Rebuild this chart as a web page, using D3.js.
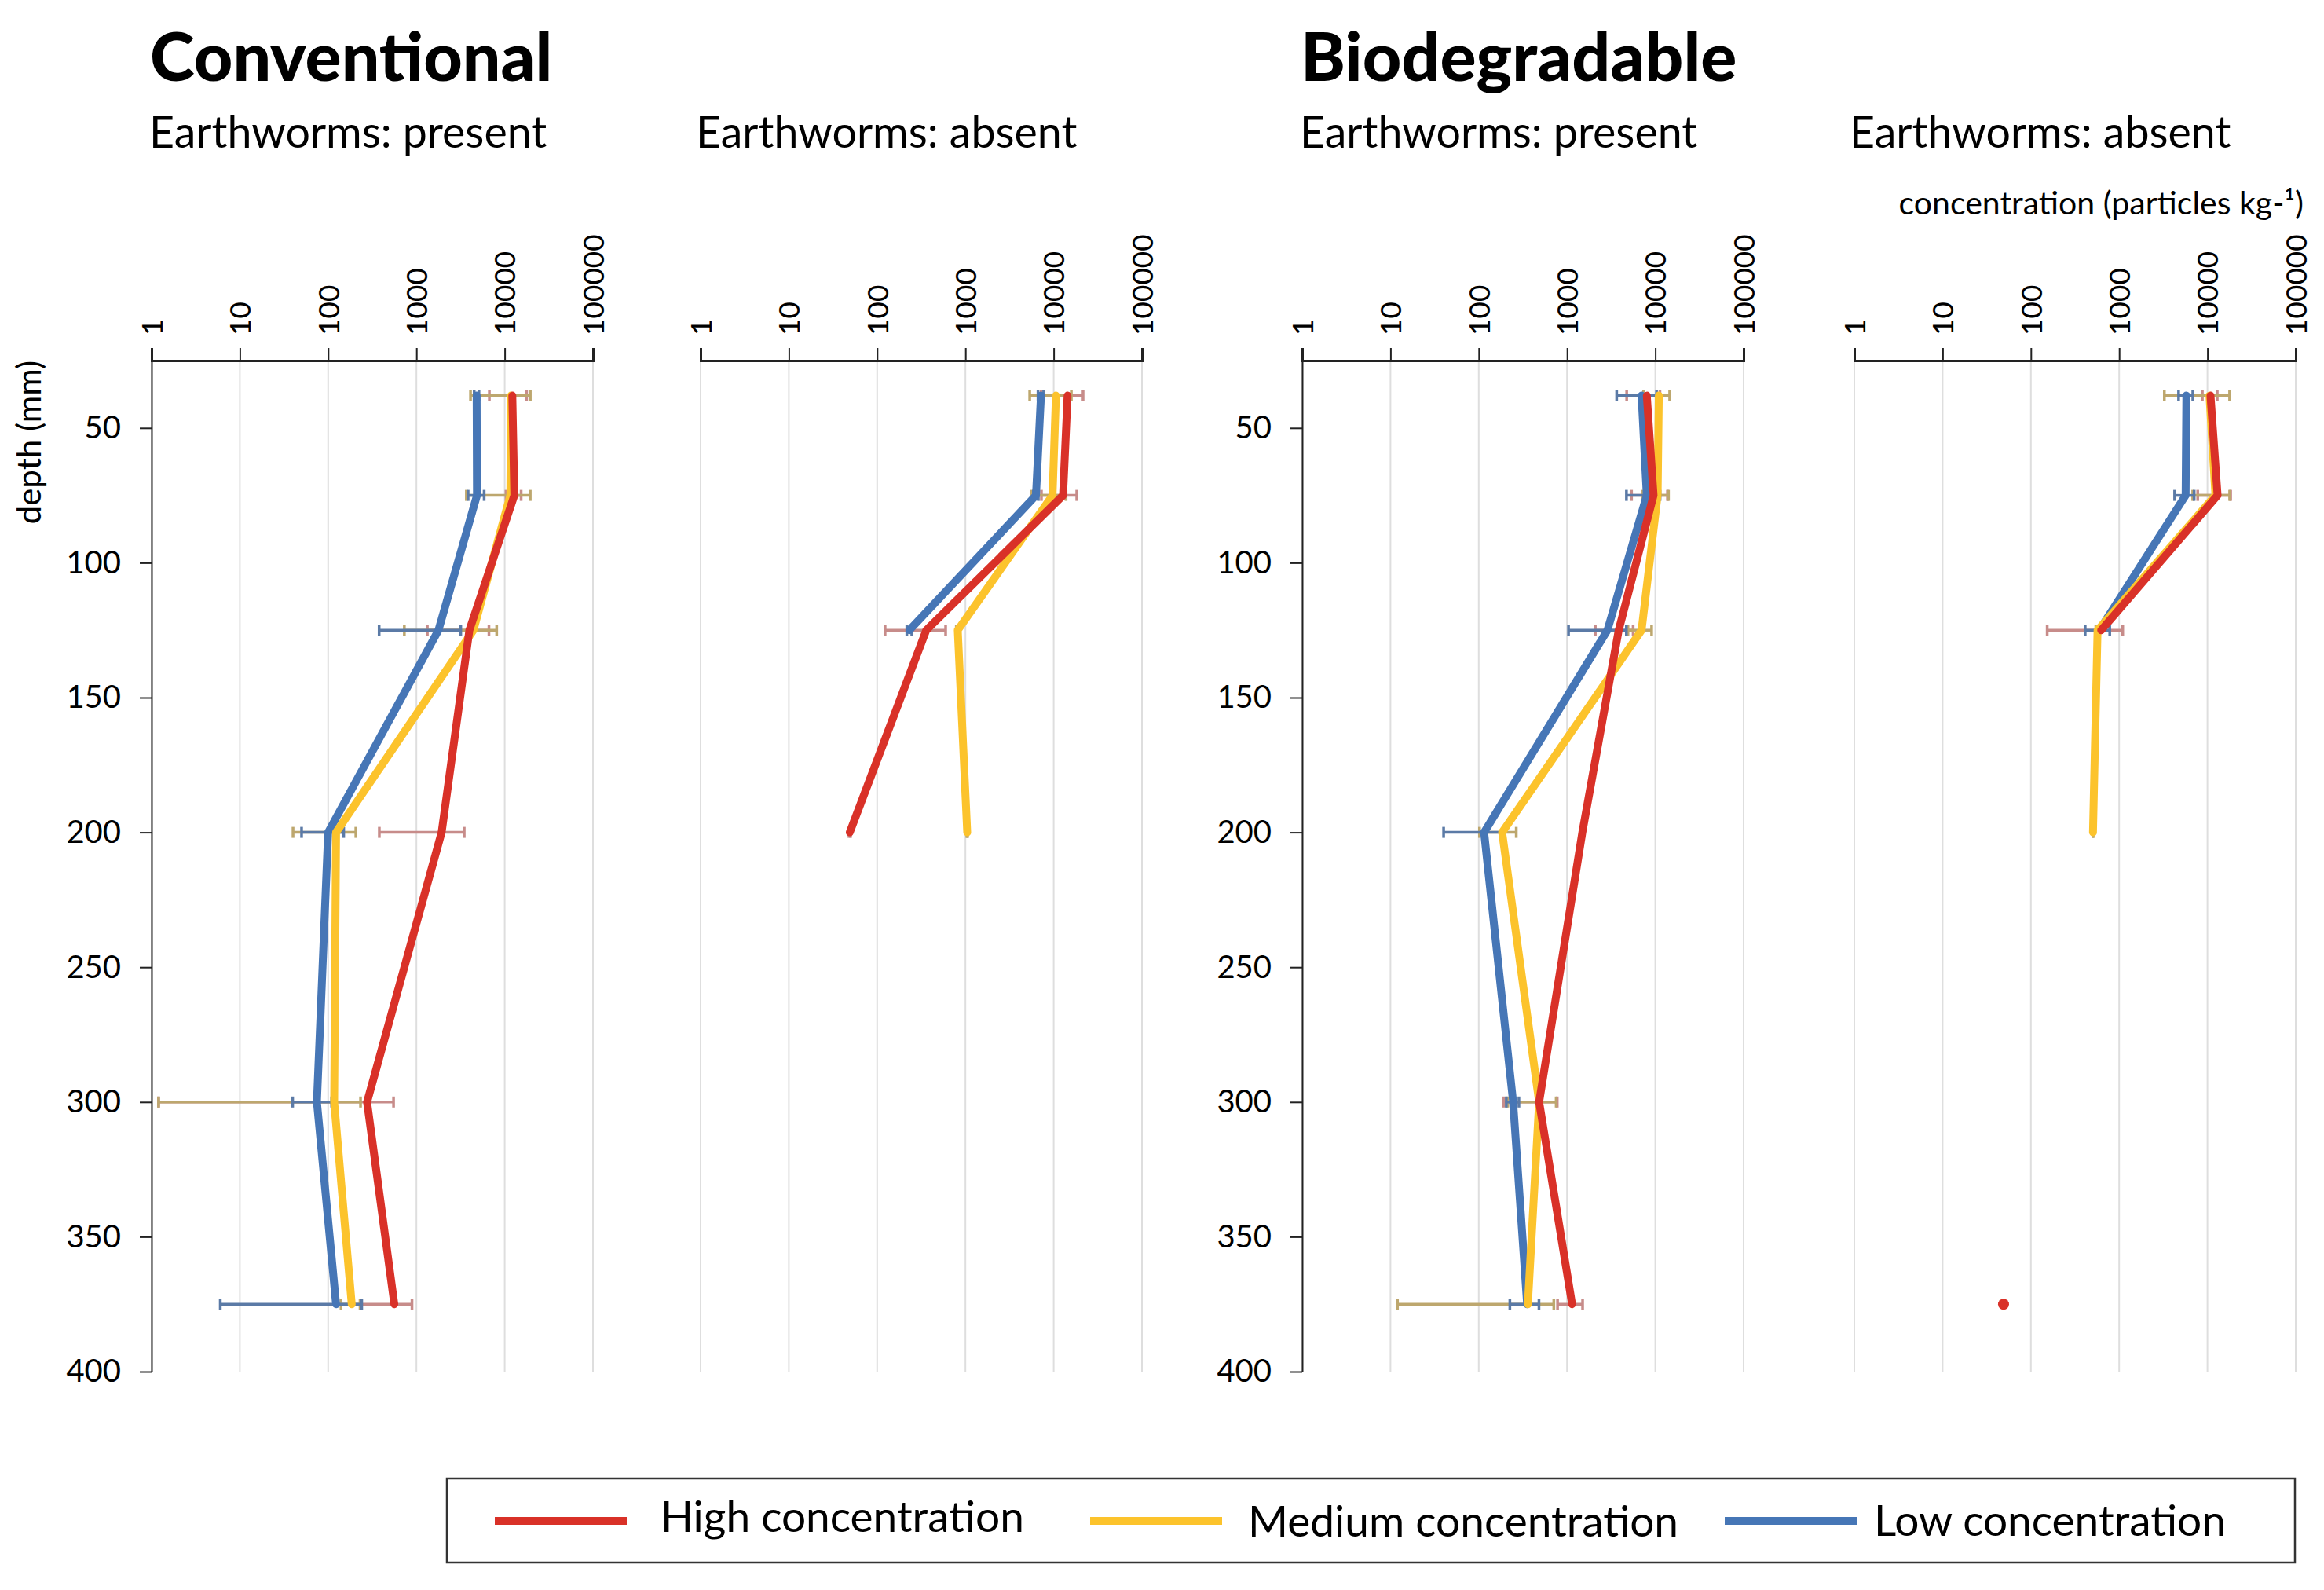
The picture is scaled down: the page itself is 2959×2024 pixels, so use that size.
<!DOCTYPE html>
<html>
<head>
<meta charset="utf-8">
<script src="https://cdn.jsdelivr.net/npm/d3@7"></script>
<style>
  body { margin: 0; background: #fff; }
  svg { display: block; font-family: Lato, "Open Sans", sans-serif; }
</style>
</head>
<body>
<svg id="chart" width="2959" height="2024"></svg>
<script>
// sampled layer depths (mm) and axis ticks
var depths = [38, 75, 125, 200, 300, 375];
var xTicks = [1, 10, 100, 1000, 10000, 100000];
var yTicks = [50, 100, 150, 200, 250, 300, 350, 400];
var seriesNames = ["High concentration", "Medium concentration", "Low concentration"];
var groupTitles = ["Conventional", "Biodegradable"];
var panelTitles = ["Earthworms: present", "Earthworms: absent", "Earthworms: present", "Earthworms: absent"];

// Conventional, earthworms present (particles kg-1, mean and error)
var convPresentHigh = [12200, 12850, 3980, 1930, 276, 562];
var convPresentHighErr = [5500, 2500, 2650, 1550, 274.8, 329];
var convPresentMedium = [11800, 11580, 4420, 123, 117, 185];
var convPresentMediumErr = [7700, 7900, 3690, 83, 115.8, 45];
var convPresentLow = [4810, 4850, 1778, 100, 74.6, 123];
var convPresentLowErr = [300, 1000, 1400, 50, 35, 117];

// Conventional, earthworms absent
var convAbsentHigh = [14360, 12760, 360, 49, null, null];
var convAbsentHighErr = [7150, 5500, 237, 1, null, null];
var convAbsentMedium = [10600, 9700, 819, 1048, null, null];
var convAbsentMediumErr = [5250, 4100, 30, 10, null, null];
var convAbsentLow = [7170, 6300, 232, null, null, null];
var convAbsentLowErr = [530, 400, 15, null, null, null];

// Biodegradable, earthworms present
var bioPresentHigh = [8010, 9560, 3850, 1490, 483, 1141];
var bioPresentHighErr = [3270, 4180, 1760, 60, 291, 360];
var bioPresentMedium = [10960, 10620, 6990, 184, 483, 360];
var bioPresentMediumErr = [3590, 3480, 2090, 82, 270, 348];
var bioPresentLow = [6990, 8010, 2870, 115, 245, 353];
var bioPresentLowErr = [3340, 3300, 1830, 75, 40, 128];

// Biodegradable, earthworms absent
var bioAbsentHigh = [10830, 13030, 625, null, null, 49];
var bioAbsentHighErr = [2080, 5270, 472, null, null, null];
var bioAbsentMedium = [10540, 12330, 569, 505, null, null];
var bioAbsentMediumErr = [7290, 5520, 25, 1, null, null];
var bioAbsentLow = [5770, 5660, 597, null, null, null];
var bioAbsentLowErr = [1060, 1410, 185, null, null, null];

var lineColors = ["#d93128", "#fcc32c", "#4676b6"];
var errColors = ["#c78c8a", "#bda76e", "#5b7aa6"];

var panels = [
  {left: 193, yAxis: true, values: [convPresentHigh, convPresentMedium, convPresentLow],
   errors: [convPresentHighErr, convPresentMediumErr, convPresentLowErr]},
  {left: 892, yAxis: false, values: [convAbsentHigh, convAbsentMedium, convAbsentLow],
   errors: [convAbsentHighErr, convAbsentMediumErr, convAbsentLowErr]},
  {left: 1658, yAxis: true, values: [bioPresentHigh, bioPresentMedium, bioPresentLow],
   errors: [bioPresentHighErr, bioPresentMediumErr, bioPresentLowErr]},
  {left: 2361, yAxis: false, values: [bioAbsentHigh, bioAbsentMedium, bioAbsentLow],
   errors: [bioAbsentHighErr, bioAbsentMediumErr, bioAbsentLowErr]}
];

var panelWidth = 562;
var plotTop = 459, plotBottom = 1746;

var svg = d3.select("#chart");

var y = d3.scaleLinear().domain([25, 400]).range([plotTop, plotBottom]);

// titles
svg.selectAll(".group-title")
  .data(groupTitles)
  .enter().append("text")
    .attr("class", "group-title")
    .attr("x", function(d, i) { return panels[i * 2].left - 2; })
    .attr("y", 103)
    .attr("font-size", 86)
    .attr("font-weight", 900)
    .text(function(d) { return d; });

svg.selectAll(".panel-title")
  .data(panelTitles)
  .enter().append("text")
    .attr("class", "panel-title")
    .attr("x", function(d, i) { return panels[i].left - (i % 2 ? 6 : 3); })
    .attr("y", 188)
    .attr("font-size", 55.5)
    .text(function(d) { return d; });

svg.append("text")
    .attr("x", 2933)
    .attr("y", 273)
    .attr("text-anchor", "end")
    .attr("font-size", 41)
    .text("concentration (particles kg-\u00b9)");

svg.append("text")
    .attr("transform", "translate(37,563) rotate(-90)")
    .attr("text-anchor", "middle")
    .attr("dy", "0.35em")
    .attr("font-size", 42)
    .text("depth (mm)");

panels.forEach(function(p) {
  var x = d3.scaleLog().domain([1, 100000]).range([p.left, p.left + panelWidth]);
  var g = svg.append("g");

  // vertical gridlines
  g.selectAll(".grid")
    .data(xTicks)
    .enter().append("line")
      .attr("x1", x).attr("x2", x)
      .attr("y1", plotTop).attr("y2", plotBottom)
      .attr("stroke", "#dedede")
      .attr("stroke-width", 2);

  // top axis with rotated labels
  var xAxis = g.append("g")
      .attr("transform", "translate(0," + plotTop + ")")
      .call(d3.axisTop(x).tickValues(xTicks).tickSize(16).tickFormat(d3.format("d")));
  xAxis.attr("font-family", null).attr("font-size", 37);
  xAxis.select(".domain").attr("stroke", "#222").attr("stroke-width", 3);
  xAxis.selectAll(".tick line").attr("stroke", "#222").attr("stroke-width", 2);
  xAxis.selectAll(".tick text")
      .attr("transform", "rotate(-90)")
      .attr("x", 32)
      .attr("y", 0)
      .attr("dy", "0.36em")
      .attr("fill", "#000")
      .style("text-anchor", "start");

  if (p.yAxis) {
    var yAxis = g.append("g")
        .attr("transform", "translate(" + p.left + ",0)")
        .call(d3.axisLeft(y).tickValues(yTicks).tickSize(15).tickSizeOuter(0).tickPadding(24));
    yAxis.attr("font-family", null).attr("font-size", 40);
    yAxis.select(".domain").attr("stroke", "#222").attr("stroke-width", 2);
    yAxis.selectAll(".tick line").attr("stroke", "#222").attr("stroke-width", 2);
    yAxis.selectAll(".tick text").attr("fill", "#000");
  }

  // error bars under the lines
  [0, 1, 2].forEach(function(s) {
    var bars = depths.map(function(dep, i) {
      return {depth: dep, v: p.values[s][i], e: p.errors[s][i]};
    }).filter(function(d) { return d.v != null && d.e != null; });

    var eg = g.append("g")
        .attr("stroke", errColors[s])
        .attr("stroke-width", 3.5);

    bars.forEach(function(d) {
      var lo = x(Math.max(d.v - d.e, 1));
      var hi = x(d.v + d.e);
      var yy = y(d.depth);
      eg.append("line").attr("x1", lo).attr("x2", hi).attr("y1", yy).attr("y2", yy);
      eg.append("line").attr("x1", lo).attr("x2", lo).attr("y1", yy - 7).attr("y2", yy + 7);
      eg.append("line").attr("x1", hi).attr("x2", hi).attr("y1", yy - 7).attr("y2", yy + 7);
    });
  });

  // depth profiles: low first so high sits on top
  var line = d3.line()
      .defined(function(d) { return d.v != null; })
      .x(function(d) { return x(d.v); })
      .y(function(d) { return y(d.depth); });

  [2, 1, 0].forEach(function(s) {
    var vals = p.values[s];
    var pts = depths.map(function(dep, i) { return {depth: dep, v: vals[i]}; });
    g.append("path")
        .datum(pts)
        .attr("fill", "none")
        .attr("stroke", lineColors[s])
        .attr("stroke-width", 10)
        .attr("stroke-linecap", "round")
        .attr("stroke-linejoin", "round")
        .attr("d", line);

    // a point with no neighbours shows as a dot
    var lone = pts.filter(function(d, i) {
      return d.v != null && vals[i - 1] == null && vals[i + 1] == null;
    });
    g.selectAll(null)
      .data(lone)
      .enter().append("circle")
        .attr("cx", function(d) { return x(d.v); })
        .attr("cy", function(d) { return y(d.depth); })
        .attr("r", 7)
        .attr("fill", lineColors[s]);
  });
});

// legend
var legend = svg.append("g");
legend.append("rect")
    .attr("x", 569).attr("y", 1882)
    .attr("width", 2353).attr("height", 107)
    .attr("fill", "none")
    .attr("stroke", "#333")
    .attr("stroke-width", 2.5);

var legendSwatchX = [630, 1388, 2196];
var legendTextX = [841, 1589, 2386];
var legendBaseline = [1950, 1956, 1955];
var item = legend.selectAll(".legend-item")
  .data(seriesNames)
  .enter().append("g")
    .attr("class", "legend-item");

item.append("line")
    .attr("x1", function(d, i) { return legendSwatchX[i]; })
    .attr("x2", function(d, i) { return legendSwatchX[i] + 168; })
    .attr("y1", 1936).attr("y2", 1936)
    .attr("stroke", function(d, i) { return lineColors[i]; })
    .attr("stroke-width", 10);

item.append("text")
    .attr("x", function(d, i) { return legendTextX[i]; })
    .attr("y", function(d, i) { return legendBaseline[i]; })
    .attr("font-size", 55)
    .text(function(d) { return d; });
</script>
</body>
</html>
